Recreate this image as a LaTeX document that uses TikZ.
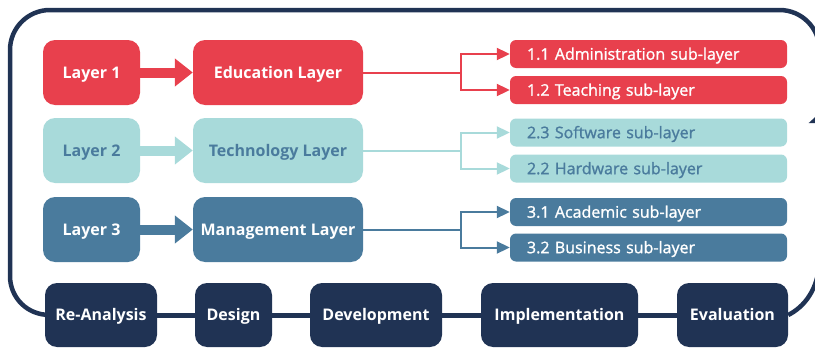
\documentclass[tikz,border=0pt]{standalone}
\usepackage{fontspec}
\setmainfont{Open Sans}
\newfontfamily\subfont[FakeBold=1.2]{Open Sans}
\usetikzlibrary{arrows.meta}
\definecolor{cred}{HTML}{E8404D}
\definecolor{cteal}{HTML}{A8DADA}
\definecolor{csteel}{HTML}{4A7B9D}
\definecolor{cnavy}{HTML}{203354}
\begin{document}
\begin{tikzpicture}[x=1pt,y=-1pt,
  box/.style={rounded corners=12pt, minimum height=65pt, inner sep=0pt,
    text height=11.4pt, text depth=0pt,
    font=\bfseries\fontsize{16}{19}\selectfont, text=white},
  layerbox/.style={box, minimum width=97pt},
  namebox/.style={box, minimum width=170pt},
  subbox/.style={rounded corners=6pt, minimum height=28pt, text width=243pt,
    text height=11.4pt, text depth=0pt,
    inner xsep=17pt, inner ysep=0pt, align=left, text=white,
    font=\subfont\fontsize{16}{19}\selectfont},
  stage/.style={box, fill=cnavy, minimum height=64pt},
  blockarrow/.style={draw=#1, line width=10pt,
    -{Triangle[length=18pt,width=27pt]}},
  subarrow/.style={draw=#1, line width=2pt,
    -{Triangle[length=13pt,width=12pt]}},
  frame/.style={draw=cnavy, line width=4.5pt}
]
\useasboundingbox (0,0) rectangle (815,348);
\clip (0,0) rectangle (815,348);

% layers
\node[layerbox, fill=cred] (l1) at (91.5,72.5) {Layer 1};
\node[layerbox, fill=cteal, text=csteel] (l2) at (91.5,150.5) {Layer 2};
\node[layerbox, fill=csteel] (l3) at (91.5,229.5) {Layer 3};

\node[namebox, fill=cred] (edu) at (278,72.5) {Education Layer};
\node[namebox, fill=cteal, text=csteel] (tech) at (278,150.5) {Technology Layer};
\node[namebox, fill=csteel] (man) at (278,229.5) {Management Layer};

\draw[blockarrow=cred] (l1) -- (edu);
\draw[blockarrow=cteal] (l2) -- (tech);
\draw[blockarrow=csteel] (l3) -- (man);

% sub-layers
\node[subbox, fill=cred] (s11) at (648.5,54) {1.1 Administration sub-layer};
\node[subbox, fill=cred] (s12) at (648.5,90) {1.2 Teaching sub-layer};
\node[subbox, fill=cteal, text=csteel] (s23) at (648.5,132.5) {2.3 Software sub-layer};
\node[subbox, fill=cteal, text=csteel] (s22) at (648.5,168.5) {2.2 Hardware sub-layer};
\node[subbox, fill=csteel] (s31) at (648.5,212) {3.1 Academic sub-layer};
\node[subbox, fill=csteel] (s32) at (648.5,247.5) {3.2 Business sub-layer};

\draw[subarrow=cred] (edu.east) -- ([xshift=98pt]edu.east) |- (s11.west);
\draw[subarrow=cred] (edu.east) -- ([xshift=98pt]edu.east) |- (s12.west);
\draw[subarrow=cteal] (tech.east) -- ([xshift=98pt]tech.east) |- (s23.west);
\draw[subarrow=cteal] (tech.east) -- ([xshift=98pt]tech.east) |- (s22.west);
\draw[subarrow=csteel] (man.east) -- ([xshift=98pt]man.east) |- (s31.west);
\draw[subarrow=csteel] (man.east) -- ([xshift=98pt]man.east) |- (s32.west);

% process stages
\node[stage, minimum width=112pt] (ra) at (101,315) {Re-Analysis};
\node[stage, minimum width=77pt] (de) at (233.5,315) {Design};
\node[stage, minimum width=132pt] (dv) at (376,315) {Development};
\node[stage, minimum width=157pt] (im) at (559.5,315) {Implementation};
\node[stage, minimum width=111pt] (ev) at (732.5,315) {Evaluation};

\draw[cnavy, line width=5pt] (ra) -- (de) (de) -- (dv) (dv) -- (im) (im) -- (ev);

% feedback loop around the layers
\coordinate (bl) at (10,316);
\coordinate (tl) at (10,10);
\coordinate (tr) at (819.5,10);
\coordinate (rtip) at (819.5,113);
\coordinate (rlow) at (819.5,262);
\draw[frame, -{Triangle[length=10pt,width=21pt]}]
  (ev.east) .. controls (804,307) and (818,290) .. (rlow) -- (rtip);
\draw[frame, rounded corners=40pt] (rtip) -- (tr) -- (tl) -- (bl) -- (ra.west);
\end{tikzpicture}
\end{document}
